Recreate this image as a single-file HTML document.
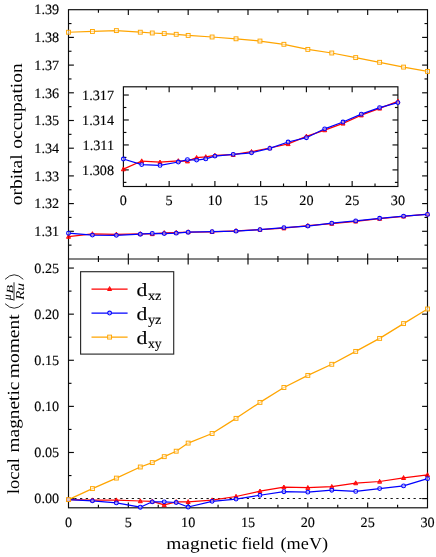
<!DOCTYPE html>
<html><head><meta charset="utf-8"><title>chart</title>
<style>html,body{margin:0;padding:0;background:#fff;}svg{display:block;will-change:transform;text-rendering:geometricPrecision;}text{stroke:#000;stroke-width:0.14px;}</style>
</head><body>
<svg width="436" height="557" viewBox="0 0 436 557" font-family='"Liberation Serif", serif' fill="#000">
<rect x="0" y="0" width="436" height="557" fill="#ffffff"/>
<rect x="68.5" y="9.7" width="359.0" height="498.1" fill="none" stroke="#0a0a0a" stroke-width="1.15"/>
<line x1="68.50" y1="259.00" x2="427.50" y2="259.00" stroke="#0a0a0a" stroke-width="1.15" />
<text x="68.50" y="526.50" font-size="14.2" text-anchor="middle" >0</text>
<line x1="98.42" y1="9.70" x2="98.42" y2="12.70" stroke="#0a0a0a" stroke-width="1.15" />
<line x1="98.42" y1="256.00" x2="98.42" y2="262.00" stroke="#0a0a0a" stroke-width="1.15" />
<line x1="98.42" y1="507.80" x2="98.42" y2="504.80" stroke="#0a0a0a" stroke-width="1.15" />
<line x1="128.33" y1="9.70" x2="128.33" y2="15.10" stroke="#0a0a0a" stroke-width="1.15" />
<line x1="128.33" y1="253.60" x2="128.33" y2="264.40" stroke="#0a0a0a" stroke-width="1.15" />
<line x1="128.33" y1="507.80" x2="128.33" y2="502.40" stroke="#0a0a0a" stroke-width="1.15" />
<text x="128.33" y="526.50" font-size="14.2" text-anchor="middle" >5</text>
<line x1="158.25" y1="9.70" x2="158.25" y2="12.70" stroke="#0a0a0a" stroke-width="1.15" />
<line x1="158.25" y1="256.00" x2="158.25" y2="262.00" stroke="#0a0a0a" stroke-width="1.15" />
<line x1="158.25" y1="507.80" x2="158.25" y2="504.80" stroke="#0a0a0a" stroke-width="1.15" />
<line x1="188.17" y1="9.70" x2="188.17" y2="15.10" stroke="#0a0a0a" stroke-width="1.15" />
<line x1="188.17" y1="253.60" x2="188.17" y2="264.40" stroke="#0a0a0a" stroke-width="1.15" />
<line x1="188.17" y1="507.80" x2="188.17" y2="502.40" stroke="#0a0a0a" stroke-width="1.15" />
<text x="188.17" y="526.50" font-size="14.2" text-anchor="middle" >10</text>
<line x1="218.08" y1="9.70" x2="218.08" y2="12.70" stroke="#0a0a0a" stroke-width="1.15" />
<line x1="218.08" y1="256.00" x2="218.08" y2="262.00" stroke="#0a0a0a" stroke-width="1.15" />
<line x1="218.08" y1="507.80" x2="218.08" y2="504.80" stroke="#0a0a0a" stroke-width="1.15" />
<line x1="248.00" y1="9.70" x2="248.00" y2="15.10" stroke="#0a0a0a" stroke-width="1.15" />
<line x1="248.00" y1="253.60" x2="248.00" y2="264.40" stroke="#0a0a0a" stroke-width="1.15" />
<line x1="248.00" y1="507.80" x2="248.00" y2="502.40" stroke="#0a0a0a" stroke-width="1.15" />
<text x="248.00" y="526.50" font-size="14.2" text-anchor="middle" >15</text>
<line x1="277.92" y1="9.70" x2="277.92" y2="12.70" stroke="#0a0a0a" stroke-width="1.15" />
<line x1="277.92" y1="256.00" x2="277.92" y2="262.00" stroke="#0a0a0a" stroke-width="1.15" />
<line x1="277.92" y1="507.80" x2="277.92" y2="504.80" stroke="#0a0a0a" stroke-width="1.15" />
<line x1="307.83" y1="9.70" x2="307.83" y2="15.10" stroke="#0a0a0a" stroke-width="1.15" />
<line x1="307.83" y1="253.60" x2="307.83" y2="264.40" stroke="#0a0a0a" stroke-width="1.15" />
<line x1="307.83" y1="507.80" x2="307.83" y2="502.40" stroke="#0a0a0a" stroke-width="1.15" />
<text x="307.83" y="526.50" font-size="14.2" text-anchor="middle" >20</text>
<line x1="337.75" y1="9.70" x2="337.75" y2="12.70" stroke="#0a0a0a" stroke-width="1.15" />
<line x1="337.75" y1="256.00" x2="337.75" y2="262.00" stroke="#0a0a0a" stroke-width="1.15" />
<line x1="337.75" y1="507.80" x2="337.75" y2="504.80" stroke="#0a0a0a" stroke-width="1.15" />
<line x1="367.67" y1="9.70" x2="367.67" y2="15.10" stroke="#0a0a0a" stroke-width="1.15" />
<line x1="367.67" y1="253.60" x2="367.67" y2="264.40" stroke="#0a0a0a" stroke-width="1.15" />
<line x1="367.67" y1="507.80" x2="367.67" y2="502.40" stroke="#0a0a0a" stroke-width="1.15" />
<text x="367.67" y="526.50" font-size="14.2" text-anchor="middle" >25</text>
<line x1="397.58" y1="9.70" x2="397.58" y2="12.70" stroke="#0a0a0a" stroke-width="1.15" />
<line x1="397.58" y1="256.00" x2="397.58" y2="262.00" stroke="#0a0a0a" stroke-width="1.15" />
<line x1="397.58" y1="507.80" x2="397.58" y2="504.80" stroke="#0a0a0a" stroke-width="1.15" />
<text x="427.50" y="526.50" font-size="14.2" text-anchor="middle" >30</text>
<line x1="68.50" y1="245.15" x2="71.50" y2="245.15" stroke="#0a0a0a" stroke-width="1.15" />
<line x1="427.50" y1="245.15" x2="424.50" y2="245.15" stroke="#0a0a0a" stroke-width="1.15" />
<line x1="68.50" y1="231.30" x2="73.90" y2="231.30" stroke="#0a0a0a" stroke-width="1.15" />
<line x1="427.50" y1="231.30" x2="422.10" y2="231.30" stroke="#0a0a0a" stroke-width="1.15" />
<line x1="68.50" y1="217.45" x2="71.50" y2="217.45" stroke="#0a0a0a" stroke-width="1.15" />
<line x1="427.50" y1="217.45" x2="424.50" y2="217.45" stroke="#0a0a0a" stroke-width="1.15" />
<line x1="68.50" y1="203.60" x2="73.90" y2="203.60" stroke="#0a0a0a" stroke-width="1.15" />
<line x1="427.50" y1="203.60" x2="422.10" y2="203.60" stroke="#0a0a0a" stroke-width="1.15" />
<line x1="68.50" y1="189.75" x2="71.50" y2="189.75" stroke="#0a0a0a" stroke-width="1.15" />
<line x1="427.50" y1="189.75" x2="424.50" y2="189.75" stroke="#0a0a0a" stroke-width="1.15" />
<line x1="68.50" y1="175.90" x2="73.90" y2="175.90" stroke="#0a0a0a" stroke-width="1.15" />
<line x1="427.50" y1="175.90" x2="422.10" y2="175.90" stroke="#0a0a0a" stroke-width="1.15" />
<line x1="68.50" y1="162.05" x2="71.50" y2="162.05" stroke="#0a0a0a" stroke-width="1.15" />
<line x1="427.50" y1="162.05" x2="424.50" y2="162.05" stroke="#0a0a0a" stroke-width="1.15" />
<line x1="68.50" y1="148.20" x2="73.90" y2="148.20" stroke="#0a0a0a" stroke-width="1.15" />
<line x1="427.50" y1="148.20" x2="422.10" y2="148.20" stroke="#0a0a0a" stroke-width="1.15" />
<line x1="68.50" y1="134.35" x2="71.50" y2="134.35" stroke="#0a0a0a" stroke-width="1.15" />
<line x1="427.50" y1="134.35" x2="424.50" y2="134.35" stroke="#0a0a0a" stroke-width="1.15" />
<line x1="68.50" y1="120.50" x2="73.90" y2="120.50" stroke="#0a0a0a" stroke-width="1.15" />
<line x1="427.50" y1="120.50" x2="422.10" y2="120.50" stroke="#0a0a0a" stroke-width="1.15" />
<line x1="68.50" y1="106.65" x2="71.50" y2="106.65" stroke="#0a0a0a" stroke-width="1.15" />
<line x1="427.50" y1="106.65" x2="424.50" y2="106.65" stroke="#0a0a0a" stroke-width="1.15" />
<line x1="68.50" y1="92.80" x2="73.90" y2="92.80" stroke="#0a0a0a" stroke-width="1.15" />
<line x1="427.50" y1="92.80" x2="422.10" y2="92.80" stroke="#0a0a0a" stroke-width="1.15" />
<line x1="68.50" y1="78.95" x2="71.50" y2="78.95" stroke="#0a0a0a" stroke-width="1.15" />
<line x1="427.50" y1="78.95" x2="424.50" y2="78.95" stroke="#0a0a0a" stroke-width="1.15" />
<line x1="68.50" y1="65.10" x2="73.90" y2="65.10" stroke="#0a0a0a" stroke-width="1.15" />
<line x1="427.50" y1="65.10" x2="422.10" y2="65.10" stroke="#0a0a0a" stroke-width="1.15" />
<line x1="68.50" y1="51.25" x2="71.50" y2="51.25" stroke="#0a0a0a" stroke-width="1.15" />
<line x1="427.50" y1="51.25" x2="424.50" y2="51.25" stroke="#0a0a0a" stroke-width="1.15" />
<line x1="68.50" y1="37.40" x2="73.90" y2="37.40" stroke="#0a0a0a" stroke-width="1.15" />
<line x1="427.50" y1="37.40" x2="422.10" y2="37.40" stroke="#0a0a0a" stroke-width="1.15" />
<line x1="68.50" y1="23.55" x2="71.50" y2="23.55" stroke="#0a0a0a" stroke-width="1.15" />
<line x1="427.50" y1="23.55" x2="424.50" y2="23.55" stroke="#0a0a0a" stroke-width="1.15" />
<text x="59.20" y="236.00" font-size="14.2" text-anchor="end" >1.31</text>
<text x="59.20" y="208.30" font-size="14.2" text-anchor="end" >1.32</text>
<text x="59.20" y="180.60" font-size="14.2" text-anchor="end" >1.33</text>
<text x="59.20" y="152.90" font-size="14.2" text-anchor="end" >1.34</text>
<text x="59.20" y="125.20" font-size="14.2" text-anchor="end" >1.35</text>
<text x="59.20" y="97.50" font-size="14.2" text-anchor="end" >1.36</text>
<text x="59.20" y="69.80" font-size="14.2" text-anchor="end" >1.37</text>
<text x="59.20" y="42.10" font-size="14.2" text-anchor="end" >1.38</text>
<text x="59.20" y="14.40" font-size="14.2" text-anchor="end" >1.39</text>
<line x1="68.50" y1="498.60" x2="73.90" y2="498.60" stroke="#0a0a0a" stroke-width="1.15" />
<line x1="427.50" y1="498.60" x2="422.10" y2="498.60" stroke="#0a0a0a" stroke-width="1.15" />
<text x="59.20" y="503.30" font-size="14.2" text-anchor="end" >0.00</text>
<line x1="68.50" y1="475.55" x2="71.50" y2="475.55" stroke="#0a0a0a" stroke-width="1.15" />
<line x1="427.50" y1="475.55" x2="424.50" y2="475.55" stroke="#0a0a0a" stroke-width="1.15" />
<line x1="68.50" y1="452.49" x2="73.90" y2="452.49" stroke="#0a0a0a" stroke-width="1.15" />
<line x1="427.50" y1="452.49" x2="422.10" y2="452.49" stroke="#0a0a0a" stroke-width="1.15" />
<text x="59.20" y="457.19" font-size="14.2" text-anchor="end" >0.05</text>
<line x1="68.50" y1="429.44" x2="71.50" y2="429.44" stroke="#0a0a0a" stroke-width="1.15" />
<line x1="427.50" y1="429.44" x2="424.50" y2="429.44" stroke="#0a0a0a" stroke-width="1.15" />
<line x1="68.50" y1="406.38" x2="73.90" y2="406.38" stroke="#0a0a0a" stroke-width="1.15" />
<line x1="427.50" y1="406.38" x2="422.10" y2="406.38" stroke="#0a0a0a" stroke-width="1.15" />
<text x="59.20" y="411.08" font-size="14.2" text-anchor="end" >0.10</text>
<line x1="68.50" y1="383.33" x2="71.50" y2="383.33" stroke="#0a0a0a" stroke-width="1.15" />
<line x1="427.50" y1="383.33" x2="424.50" y2="383.33" stroke="#0a0a0a" stroke-width="1.15" />
<line x1="68.50" y1="360.27" x2="73.90" y2="360.27" stroke="#0a0a0a" stroke-width="1.15" />
<line x1="427.50" y1="360.27" x2="422.10" y2="360.27" stroke="#0a0a0a" stroke-width="1.15" />
<text x="59.20" y="364.97" font-size="14.2" text-anchor="end" >0.15</text>
<line x1="68.50" y1="337.22" x2="71.50" y2="337.22" stroke="#0a0a0a" stroke-width="1.15" />
<line x1="427.50" y1="337.22" x2="424.50" y2="337.22" stroke="#0a0a0a" stroke-width="1.15" />
<line x1="68.50" y1="314.16" x2="73.90" y2="314.16" stroke="#0a0a0a" stroke-width="1.15" />
<line x1="427.50" y1="314.16" x2="422.10" y2="314.16" stroke="#0a0a0a" stroke-width="1.15" />
<text x="59.20" y="318.86" font-size="14.2" text-anchor="end" >0.20</text>
<line x1="68.50" y1="291.11" x2="71.50" y2="291.11" stroke="#0a0a0a" stroke-width="1.15" />
<line x1="427.50" y1="291.11" x2="424.50" y2="291.11" stroke="#0a0a0a" stroke-width="1.15" />
<line x1="68.50" y1="268.05" x2="73.90" y2="268.05" stroke="#0a0a0a" stroke-width="1.15" />
<line x1="427.50" y1="268.05" x2="422.10" y2="268.05" stroke="#0a0a0a" stroke-width="1.15" />
<text x="59.20" y="272.75" font-size="14.2" text-anchor="end" >0.25</text>
<polyline points="68.50,32.25 92.43,31.45 116.37,30.60 140.30,32.20 152.27,33.00 164.23,33.60 176.20,34.30 188.17,35.40 212.10,37.00 236.03,38.80 259.97,41.05 283.90,44.30 307.83,49.40 331.77,53.00 355.70,57.60 379.63,62.30 403.57,67.10 427.50,71.40" fill="none" stroke="#ffa500" stroke-width="1.25" stroke-opacity="1.0" stroke-linejoin="round"/>
<rect x="66.55" y="30.30" width="3.90" height="3.90" fill="#fff" fill-opacity="0.55" stroke="#ffa500" stroke-width="0.95"/>
<rect x="90.48" y="29.50" width="3.90" height="3.90" fill="#fff" fill-opacity="0.55" stroke="#ffa500" stroke-width="0.95"/>
<rect x="114.42" y="28.65" width="3.90" height="3.90" fill="#fff" fill-opacity="0.55" stroke="#ffa500" stroke-width="0.95"/>
<rect x="138.35" y="30.25" width="3.90" height="3.90" fill="#fff" fill-opacity="0.55" stroke="#ffa500" stroke-width="0.95"/>
<rect x="150.32" y="31.05" width="3.90" height="3.90" fill="#fff" fill-opacity="0.55" stroke="#ffa500" stroke-width="0.95"/>
<rect x="162.28" y="31.65" width="3.90" height="3.90" fill="#fff" fill-opacity="0.55" stroke="#ffa500" stroke-width="0.95"/>
<rect x="174.25" y="32.35" width="3.90" height="3.90" fill="#fff" fill-opacity="0.55" stroke="#ffa500" stroke-width="0.95"/>
<rect x="186.22" y="33.45" width="3.90" height="3.90" fill="#fff" fill-opacity="0.55" stroke="#ffa500" stroke-width="0.95"/>
<rect x="210.15" y="35.05" width="3.90" height="3.90" fill="#fff" fill-opacity="0.55" stroke="#ffa500" stroke-width="0.95"/>
<rect x="234.08" y="36.85" width="3.90" height="3.90" fill="#fff" fill-opacity="0.55" stroke="#ffa500" stroke-width="0.95"/>
<rect x="258.02" y="39.10" width="3.90" height="3.90" fill="#fff" fill-opacity="0.55" stroke="#ffa500" stroke-width="0.95"/>
<rect x="281.95" y="42.35" width="3.90" height="3.90" fill="#fff" fill-opacity="0.55" stroke="#ffa500" stroke-width="0.95"/>
<rect x="305.88" y="47.45" width="3.90" height="3.90" fill="#fff" fill-opacity="0.55" stroke="#ffa500" stroke-width="0.95"/>
<rect x="329.82" y="51.05" width="3.90" height="3.90" fill="#fff" fill-opacity="0.55" stroke="#ffa500" stroke-width="0.95"/>
<rect x="353.75" y="55.65" width="3.90" height="3.90" fill="#fff" fill-opacity="0.55" stroke="#ffa500" stroke-width="0.95"/>
<rect x="377.68" y="60.35" width="3.90" height="3.90" fill="#fff" fill-opacity="0.55" stroke="#ffa500" stroke-width="0.95"/>
<rect x="401.62" y="65.15" width="3.90" height="3.90" fill="#fff" fill-opacity="0.55" stroke="#ffa500" stroke-width="0.95"/>
<rect x="425.55" y="69.45" width="3.90" height="3.90" fill="#fff" fill-opacity="0.55" stroke="#ffa500" stroke-width="0.95"/>
<polyline points="68.50,236.57 92.43,233.89 116.37,234.28 140.30,233.84 152.27,233.94 164.23,232.78 176.20,232.51 188.17,232.01 212.10,231.78 236.03,230.78 259.97,229.55 283.90,228.18 307.83,225.65 331.77,223.57 355.70,221.36 379.63,218.63 403.57,216.36 427.50,214.02" fill="none" stroke="#ff0000" stroke-width="1.25" stroke-opacity="1.0" stroke-linejoin="round"/>
<path d="M68.50,234.37 L70.50,238.27 L66.50,238.27 Z" fill="#ff0000" fill-opacity="0.7" stroke="#ff0000" stroke-width="0.95" stroke-linejoin="miter"/>
<path d="M92.43,231.69 L94.43,235.59 L90.43,235.59 Z" fill="#ff0000" fill-opacity="0.7" stroke="#ff0000" stroke-width="0.95" stroke-linejoin="miter"/>
<path d="M116.37,232.08 L118.37,235.98 L114.37,235.98 Z" fill="#ff0000" fill-opacity="0.7" stroke="#ff0000" stroke-width="0.95" stroke-linejoin="miter"/>
<path d="M140.30,231.64 L142.30,235.54 L138.30,235.54 Z" fill="#ff0000" fill-opacity="0.7" stroke="#ff0000" stroke-width="0.95" stroke-linejoin="miter"/>
<path d="M152.27,231.74 L154.27,235.64 L150.27,235.64 Z" fill="#ff0000" fill-opacity="0.7" stroke="#ff0000" stroke-width="0.95" stroke-linejoin="miter"/>
<path d="M164.23,230.58 L166.23,234.48 L162.23,234.48 Z" fill="#ff0000" fill-opacity="0.7" stroke="#ff0000" stroke-width="0.95" stroke-linejoin="miter"/>
<path d="M176.20,230.31 L178.20,234.21 L174.20,234.21 Z" fill="#ff0000" fill-opacity="0.7" stroke="#ff0000" stroke-width="0.95" stroke-linejoin="miter"/>
<path d="M188.17,229.81 L190.17,233.71 L186.17,233.71 Z" fill="#ff0000" fill-opacity="0.7" stroke="#ff0000" stroke-width="0.95" stroke-linejoin="miter"/>
<path d="M212.10,229.58 L214.10,233.48 L210.10,233.48 Z" fill="#ff0000" fill-opacity="0.7" stroke="#ff0000" stroke-width="0.95" stroke-linejoin="miter"/>
<path d="M236.03,228.58 L238.03,232.48 L234.03,232.48 Z" fill="#ff0000" fill-opacity="0.7" stroke="#ff0000" stroke-width="0.95" stroke-linejoin="miter"/>
<path d="M259.97,227.35 L261.97,231.25 L257.97,231.25 Z" fill="#ff0000" fill-opacity="0.7" stroke="#ff0000" stroke-width="0.95" stroke-linejoin="miter"/>
<path d="M283.90,225.98 L285.90,229.88 L281.90,229.88 Z" fill="#ff0000" fill-opacity="0.7" stroke="#ff0000" stroke-width="0.95" stroke-linejoin="miter"/>
<path d="M307.83,223.45 L309.83,227.35 L305.83,227.35 Z" fill="#ff0000" fill-opacity="0.7" stroke="#ff0000" stroke-width="0.95" stroke-linejoin="miter"/>
<path d="M331.77,221.37 L333.77,225.27 L329.77,225.27 Z" fill="#ff0000" fill-opacity="0.7" stroke="#ff0000" stroke-width="0.95" stroke-linejoin="miter"/>
<path d="M355.70,219.16 L357.70,223.06 L353.70,223.06 Z" fill="#ff0000" fill-opacity="0.7" stroke="#ff0000" stroke-width="0.95" stroke-linejoin="miter"/>
<path d="M379.63,216.43 L381.63,220.33 L377.63,220.33 Z" fill="#ff0000" fill-opacity="0.7" stroke="#ff0000" stroke-width="0.95" stroke-linejoin="miter"/>
<path d="M403.57,214.16 L405.57,218.06 L401.57,218.06 Z" fill="#ff0000" fill-opacity="0.7" stroke="#ff0000" stroke-width="0.95" stroke-linejoin="miter"/>
<path d="M427.50,211.82 L429.50,215.72 L425.50,215.72 Z" fill="#ff0000" fill-opacity="0.7" stroke="#ff0000" stroke-width="0.95" stroke-linejoin="miter"/>
<polyline points="68.50,233.21 92.43,235.08 116.37,235.34 140.30,234.21 152.27,233.41 164.23,233.57 176.20,233.18 188.17,232.23 212.10,231.65 236.03,231.15 259.97,229.68 283.90,227.55 307.83,226.12 331.77,223.16 355.70,220.89 379.63,218.28 403.57,216.08 427.50,214.43" fill="none" stroke="#0000ff" stroke-width="1.25" stroke-opacity="1.0" stroke-linejoin="round"/>
<circle cx="68.50" cy="233.21" r="1.9" fill="#fff" fill-opacity="0.5" stroke="#0000ff" stroke-width="1.05"/>
<circle cx="92.43" cy="235.08" r="1.9" fill="#fff" fill-opacity="0.5" stroke="#0000ff" stroke-width="1.05"/>
<circle cx="116.37" cy="235.34" r="1.9" fill="#fff" fill-opacity="0.5" stroke="#0000ff" stroke-width="1.05"/>
<circle cx="140.30" cy="234.21" r="1.9" fill="#fff" fill-opacity="0.5" stroke="#0000ff" stroke-width="1.05"/>
<circle cx="152.27" cy="233.41" r="1.9" fill="#fff" fill-opacity="0.5" stroke="#0000ff" stroke-width="1.05"/>
<circle cx="164.23" cy="233.57" r="1.9" fill="#fff" fill-opacity="0.5" stroke="#0000ff" stroke-width="1.05"/>
<circle cx="176.20" cy="233.18" r="1.9" fill="#fff" fill-opacity="0.5" stroke="#0000ff" stroke-width="1.05"/>
<circle cx="188.17" cy="232.23" r="1.9" fill="#fff" fill-opacity="0.5" stroke="#0000ff" stroke-width="1.05"/>
<circle cx="212.10" cy="231.65" r="1.9" fill="#fff" fill-opacity="0.5" stroke="#0000ff" stroke-width="1.05"/>
<circle cx="236.03" cy="231.15" r="1.9" fill="#fff" fill-opacity="0.5" stroke="#0000ff" stroke-width="1.05"/>
<circle cx="259.97" cy="229.68" r="1.9" fill="#fff" fill-opacity="0.5" stroke="#0000ff" stroke-width="1.05"/>
<circle cx="283.90" cy="227.55" r="1.9" fill="#fff" fill-opacity="0.5" stroke="#0000ff" stroke-width="1.05"/>
<circle cx="307.83" cy="226.12" r="1.9" fill="#fff" fill-opacity="0.5" stroke="#0000ff" stroke-width="1.05"/>
<circle cx="331.77" cy="223.16" r="1.9" fill="#fff" fill-opacity="0.5" stroke="#0000ff" stroke-width="1.05"/>
<circle cx="355.70" cy="220.89" r="1.9" fill="#fff" fill-opacity="0.5" stroke="#0000ff" stroke-width="1.05"/>
<circle cx="379.63" cy="218.28" r="1.9" fill="#fff" fill-opacity="0.5" stroke="#0000ff" stroke-width="1.05"/>
<circle cx="403.57" cy="216.08" r="1.9" fill="#fff" fill-opacity="0.5" stroke="#0000ff" stroke-width="1.05"/>
<circle cx="427.50" cy="214.43" r="1.9" fill="#fff" fill-opacity="0.5" stroke="#0000ff" stroke-width="1.05"/>
<line x1="68.50" y1="498.50" x2="427.50" y2="498.50" stroke="#000" stroke-width="0.9" stroke-dasharray="2.3 3.45"/>
<polyline points="68.50,499.60 92.43,500.10 116.37,500.10 140.30,501.00 152.27,501.40 164.23,504.90 176.20,501.80 188.17,501.80 212.10,500.07 236.03,496.50 259.97,491.20 283.90,487.20 307.83,487.70 331.77,486.70 355.70,483.05 379.63,481.50 403.57,477.80 427.50,474.90" fill="none" stroke="#ff0000" stroke-width="1.25" stroke-opacity="1.0" stroke-linejoin="round"/>
<path d="M68.50,497.40 L70.50,501.30 L66.50,501.30 Z" fill="#ff0000" fill-opacity="0.7" stroke="#ff0000" stroke-width="0.95" stroke-linejoin="miter"/>
<path d="M92.43,497.90 L94.43,501.80 L90.43,501.80 Z" fill="#ff0000" fill-opacity="0.7" stroke="#ff0000" stroke-width="0.95" stroke-linejoin="miter"/>
<path d="M116.37,497.90 L118.37,501.80 L114.37,501.80 Z" fill="#ff0000" fill-opacity="0.7" stroke="#ff0000" stroke-width="0.95" stroke-linejoin="miter"/>
<path d="M140.30,498.80 L142.30,502.70 L138.30,502.70 Z" fill="#ff0000" fill-opacity="0.7" stroke="#ff0000" stroke-width="0.95" stroke-linejoin="miter"/>
<path d="M152.27,499.20 L154.27,503.10 L150.27,503.10 Z" fill="#ff0000" fill-opacity="0.7" stroke="#ff0000" stroke-width="0.95" stroke-linejoin="miter"/>
<path d="M164.23,502.70 L166.23,506.60 L162.23,506.60 Z" fill="#ff0000" fill-opacity="0.7" stroke="#ff0000" stroke-width="0.95" stroke-linejoin="miter"/>
<path d="M176.20,499.60 L178.20,503.50 L174.20,503.50 Z" fill="#ff0000" fill-opacity="0.7" stroke="#ff0000" stroke-width="0.95" stroke-linejoin="miter"/>
<path d="M188.17,499.60 L190.17,503.50 L186.17,503.50 Z" fill="#ff0000" fill-opacity="0.7" stroke="#ff0000" stroke-width="0.95" stroke-linejoin="miter"/>
<path d="M212.10,497.87 L214.10,501.77 L210.10,501.77 Z" fill="#ff0000" fill-opacity="0.7" stroke="#ff0000" stroke-width="0.95" stroke-linejoin="miter"/>
<path d="M236.03,494.30 L238.03,498.20 L234.03,498.20 Z" fill="#ff0000" fill-opacity="0.7" stroke="#ff0000" stroke-width="0.95" stroke-linejoin="miter"/>
<path d="M259.97,489.00 L261.97,492.90 L257.97,492.90 Z" fill="#ff0000" fill-opacity="0.7" stroke="#ff0000" stroke-width="0.95" stroke-linejoin="miter"/>
<path d="M283.90,485.00 L285.90,488.90 L281.90,488.90 Z" fill="#ff0000" fill-opacity="0.7" stroke="#ff0000" stroke-width="0.95" stroke-linejoin="miter"/>
<path d="M307.83,485.50 L309.83,489.40 L305.83,489.40 Z" fill="#ff0000" fill-opacity="0.7" stroke="#ff0000" stroke-width="0.95" stroke-linejoin="miter"/>
<path d="M331.77,484.50 L333.77,488.40 L329.77,488.40 Z" fill="#ff0000" fill-opacity="0.7" stroke="#ff0000" stroke-width="0.95" stroke-linejoin="miter"/>
<path d="M355.70,480.85 L357.70,484.75 L353.70,484.75 Z" fill="#ff0000" fill-opacity="0.7" stroke="#ff0000" stroke-width="0.95" stroke-linejoin="miter"/>
<path d="M379.63,479.30 L381.63,483.20 L377.63,483.20 Z" fill="#ff0000" fill-opacity="0.7" stroke="#ff0000" stroke-width="0.95" stroke-linejoin="miter"/>
<path d="M403.57,475.60 L405.57,479.50 L401.57,479.50 Z" fill="#ff0000" fill-opacity="0.7" stroke="#ff0000" stroke-width="0.95" stroke-linejoin="miter"/>
<path d="M427.50,472.70 L429.50,476.60 L425.50,476.60 Z" fill="#ff0000" fill-opacity="0.7" stroke="#ff0000" stroke-width="0.95" stroke-linejoin="miter"/>
<polyline points="68.50,499.60 92.43,500.80 116.37,502.90 140.30,507.20 152.27,501.80 164.23,501.80 176.20,502.50 188.17,507.00 212.10,501.35 236.03,499.10 259.97,495.25 283.90,491.70 307.83,492.15 331.77,490.20 355.70,491.40 379.63,488.60 403.57,485.90 427.50,478.65" fill="none" stroke="#0000ff" stroke-width="1.25" stroke-opacity="1.0" stroke-linejoin="round"/>
<circle cx="68.50" cy="499.60" r="1.9" fill="#fff" fill-opacity="0.5" stroke="#0000ff" stroke-width="1.05"/>
<circle cx="92.43" cy="500.80" r="1.9" fill="#fff" fill-opacity="0.5" stroke="#0000ff" stroke-width="1.05"/>
<circle cx="116.37" cy="502.90" r="1.9" fill="#fff" fill-opacity="0.5" stroke="#0000ff" stroke-width="1.05"/>
<circle cx="140.30" cy="507.20" r="1.9" fill="#fff" fill-opacity="0.5" stroke="#0000ff" stroke-width="1.05"/>
<circle cx="152.27" cy="501.80" r="1.9" fill="#fff" fill-opacity="0.5" stroke="#0000ff" stroke-width="1.05"/>
<circle cx="164.23" cy="501.80" r="1.9" fill="#fff" fill-opacity="0.5" stroke="#0000ff" stroke-width="1.05"/>
<circle cx="176.20" cy="502.50" r="1.9" fill="#fff" fill-opacity="0.5" stroke="#0000ff" stroke-width="1.05"/>
<circle cx="188.17" cy="507.00" r="1.9" fill="#fff" fill-opacity="0.5" stroke="#0000ff" stroke-width="1.05"/>
<circle cx="212.10" cy="501.35" r="1.9" fill="#fff" fill-opacity="0.5" stroke="#0000ff" stroke-width="1.05"/>
<circle cx="236.03" cy="499.10" r="1.9" fill="#fff" fill-opacity="0.5" stroke="#0000ff" stroke-width="1.05"/>
<circle cx="259.97" cy="495.25" r="1.9" fill="#fff" fill-opacity="0.5" stroke="#0000ff" stroke-width="1.05"/>
<circle cx="283.90" cy="491.70" r="1.9" fill="#fff" fill-opacity="0.5" stroke="#0000ff" stroke-width="1.05"/>
<circle cx="307.83" cy="492.15" r="1.9" fill="#fff" fill-opacity="0.5" stroke="#0000ff" stroke-width="1.05"/>
<circle cx="331.77" cy="490.20" r="1.9" fill="#fff" fill-opacity="0.5" stroke="#0000ff" stroke-width="1.05"/>
<circle cx="355.70" cy="491.40" r="1.9" fill="#fff" fill-opacity="0.5" stroke="#0000ff" stroke-width="1.05"/>
<circle cx="379.63" cy="488.60" r="1.9" fill="#fff" fill-opacity="0.5" stroke="#0000ff" stroke-width="1.05"/>
<circle cx="403.57" cy="485.90" r="1.9" fill="#fff" fill-opacity="0.5" stroke="#0000ff" stroke-width="1.05"/>
<circle cx="427.50" cy="478.65" r="1.9" fill="#fff" fill-opacity="0.5" stroke="#0000ff" stroke-width="1.05"/>
<polyline points="68.50,499.60 92.43,488.60 116.37,478.10 140.30,467.00 152.27,462.60 164.23,456.65 176.20,451.20 188.17,443.10 212.10,433.50 236.03,418.35 259.97,402.40 283.90,387.50 307.83,375.40 331.77,364.30 355.70,351.40 379.63,338.40 403.57,323.60 427.50,309.00" fill="none" stroke="#ffa500" stroke-width="1.25" stroke-opacity="1.0" stroke-linejoin="round"/>
<rect x="66.55" y="497.65" width="3.90" height="3.90" fill="#fff" fill-opacity="0.55" stroke="#ffa500" stroke-width="0.95"/>
<rect x="90.48" y="486.65" width="3.90" height="3.90" fill="#fff" fill-opacity="0.55" stroke="#ffa500" stroke-width="0.95"/>
<rect x="114.42" y="476.15" width="3.90" height="3.90" fill="#fff" fill-opacity="0.55" stroke="#ffa500" stroke-width="0.95"/>
<rect x="138.35" y="465.05" width="3.90" height="3.90" fill="#fff" fill-opacity="0.55" stroke="#ffa500" stroke-width="0.95"/>
<rect x="150.32" y="460.65" width="3.90" height="3.90" fill="#fff" fill-opacity="0.55" stroke="#ffa500" stroke-width="0.95"/>
<rect x="162.28" y="454.70" width="3.90" height="3.90" fill="#fff" fill-opacity="0.55" stroke="#ffa500" stroke-width="0.95"/>
<rect x="174.25" y="449.25" width="3.90" height="3.90" fill="#fff" fill-opacity="0.55" stroke="#ffa500" stroke-width="0.95"/>
<rect x="186.22" y="441.15" width="3.90" height="3.90" fill="#fff" fill-opacity="0.55" stroke="#ffa500" stroke-width="0.95"/>
<rect x="210.15" y="431.55" width="3.90" height="3.90" fill="#fff" fill-opacity="0.55" stroke="#ffa500" stroke-width="0.95"/>
<rect x="234.08" y="416.40" width="3.90" height="3.90" fill="#fff" fill-opacity="0.55" stroke="#ffa500" stroke-width="0.95"/>
<rect x="258.02" y="400.45" width="3.90" height="3.90" fill="#fff" fill-opacity="0.55" stroke="#ffa500" stroke-width="0.95"/>
<rect x="281.95" y="385.55" width="3.90" height="3.90" fill="#fff" fill-opacity="0.55" stroke="#ffa500" stroke-width="0.95"/>
<rect x="305.88" y="373.45" width="3.90" height="3.90" fill="#fff" fill-opacity="0.55" stroke="#ffa500" stroke-width="0.95"/>
<rect x="329.82" y="362.35" width="3.90" height="3.90" fill="#fff" fill-opacity="0.55" stroke="#ffa500" stroke-width="0.95"/>
<rect x="353.75" y="349.45" width="3.90" height="3.90" fill="#fff" fill-opacity="0.55" stroke="#ffa500" stroke-width="0.95"/>
<rect x="377.68" y="336.45" width="3.90" height="3.90" fill="#fff" fill-opacity="0.55" stroke="#ffa500" stroke-width="0.95"/>
<rect x="401.62" y="321.65" width="3.90" height="3.90" fill="#fff" fill-opacity="0.55" stroke="#ffa500" stroke-width="0.95"/>
<rect x="425.55" y="307.05" width="3.90" height="3.90" fill="#fff" fill-opacity="0.55" stroke="#ffa500" stroke-width="0.95"/>
<rect x="123.4" y="86.8" width="274.5" height="99.7" fill="#ffffff" stroke="none"/>
<rect x="123.4" y="86.8" width="274.5" height="99.7" fill="none" stroke="#0a0a0a" stroke-width="1.15"/>
<text x="123.40" y="205.20" font-size="14.2" text-anchor="middle" >0</text>
<line x1="146.28" y1="86.80" x2="146.28" y2="89.80" stroke="#0a0a0a" stroke-width="1.15" />
<line x1="146.28" y1="186.50" x2="146.28" y2="183.50" stroke="#0a0a0a" stroke-width="1.15" />
<line x1="169.15" y1="86.80" x2="169.15" y2="92.20" stroke="#0a0a0a" stroke-width="1.15" />
<line x1="169.15" y1="186.50" x2="169.15" y2="181.10" stroke="#0a0a0a" stroke-width="1.15" />
<text x="169.15" y="205.20" font-size="14.2" text-anchor="middle" >5</text>
<line x1="192.03" y1="86.80" x2="192.03" y2="89.80" stroke="#0a0a0a" stroke-width="1.15" />
<line x1="192.03" y1="186.50" x2="192.03" y2="183.50" stroke="#0a0a0a" stroke-width="1.15" />
<line x1="214.90" y1="86.80" x2="214.90" y2="92.20" stroke="#0a0a0a" stroke-width="1.15" />
<line x1="214.90" y1="186.50" x2="214.90" y2="181.10" stroke="#0a0a0a" stroke-width="1.15" />
<text x="214.90" y="205.20" font-size="14.2" text-anchor="middle" >10</text>
<line x1="237.78" y1="86.80" x2="237.78" y2="89.80" stroke="#0a0a0a" stroke-width="1.15" />
<line x1="237.78" y1="186.50" x2="237.78" y2="183.50" stroke="#0a0a0a" stroke-width="1.15" />
<line x1="260.65" y1="86.80" x2="260.65" y2="92.20" stroke="#0a0a0a" stroke-width="1.15" />
<line x1="260.65" y1="186.50" x2="260.65" y2="181.10" stroke="#0a0a0a" stroke-width="1.15" />
<text x="260.65" y="205.20" font-size="14.2" text-anchor="middle" >15</text>
<line x1="283.52" y1="86.80" x2="283.52" y2="89.80" stroke="#0a0a0a" stroke-width="1.15" />
<line x1="283.52" y1="186.50" x2="283.52" y2="183.50" stroke="#0a0a0a" stroke-width="1.15" />
<line x1="306.40" y1="86.80" x2="306.40" y2="92.20" stroke="#0a0a0a" stroke-width="1.15" />
<line x1="306.40" y1="186.50" x2="306.40" y2="181.10" stroke="#0a0a0a" stroke-width="1.15" />
<text x="306.40" y="205.20" font-size="14.2" text-anchor="middle" >20</text>
<line x1="329.27" y1="86.80" x2="329.27" y2="89.80" stroke="#0a0a0a" stroke-width="1.15" />
<line x1="329.27" y1="186.50" x2="329.27" y2="183.50" stroke="#0a0a0a" stroke-width="1.15" />
<line x1="352.15" y1="86.80" x2="352.15" y2="92.20" stroke="#0a0a0a" stroke-width="1.15" />
<line x1="352.15" y1="186.50" x2="352.15" y2="181.10" stroke="#0a0a0a" stroke-width="1.15" />
<text x="352.15" y="205.20" font-size="14.2" text-anchor="middle" >25</text>
<line x1="375.02" y1="86.80" x2="375.02" y2="89.80" stroke="#0a0a0a" stroke-width="1.15" />
<line x1="375.02" y1="186.50" x2="375.02" y2="183.50" stroke="#0a0a0a" stroke-width="1.15" />
<text x="397.90" y="205.20" font-size="14.2" text-anchor="middle" >30</text>
<line x1="123.40" y1="182.38" x2="126.40" y2="182.38" stroke="#0a0a0a" stroke-width="1.15" />
<line x1="397.90" y1="182.38" x2="394.90" y2="182.38" stroke="#0a0a0a" stroke-width="1.15" />
<line x1="123.40" y1="169.90" x2="128.80" y2="169.90" stroke="#0a0a0a" stroke-width="1.15" />
<line x1="397.90" y1="169.90" x2="392.50" y2="169.90" stroke="#0a0a0a" stroke-width="1.15" />
<text x="114.00" y="174.60" font-size="14.2" text-anchor="end" >1.308</text>
<line x1="123.40" y1="157.42" x2="126.40" y2="157.42" stroke="#0a0a0a" stroke-width="1.15" />
<line x1="397.90" y1="157.42" x2="394.90" y2="157.42" stroke="#0a0a0a" stroke-width="1.15" />
<line x1="123.40" y1="144.94" x2="128.80" y2="144.94" stroke="#0a0a0a" stroke-width="1.15" />
<line x1="397.90" y1="144.94" x2="392.50" y2="144.94" stroke="#0a0a0a" stroke-width="1.15" />
<text x="114.00" y="149.64" font-size="14.2" text-anchor="end" >1.311</text>
<line x1="123.40" y1="132.46" x2="126.40" y2="132.46" stroke="#0a0a0a" stroke-width="1.15" />
<line x1="397.90" y1="132.46" x2="394.90" y2="132.46" stroke="#0a0a0a" stroke-width="1.15" />
<line x1="123.40" y1="119.98" x2="128.80" y2="119.98" stroke="#0a0a0a" stroke-width="1.15" />
<line x1="397.90" y1="119.98" x2="392.50" y2="119.98" stroke="#0a0a0a" stroke-width="1.15" />
<text x="114.00" y="124.68" font-size="14.2" text-anchor="end" >1.314</text>
<line x1="123.40" y1="107.50" x2="126.40" y2="107.50" stroke="#0a0a0a" stroke-width="1.15" />
<line x1="397.90" y1="107.50" x2="394.90" y2="107.50" stroke="#0a0a0a" stroke-width="1.15" />
<line x1="123.40" y1="95.02" x2="128.80" y2="95.02" stroke="#0a0a0a" stroke-width="1.15" />
<line x1="397.90" y1="95.02" x2="392.50" y2="95.02" stroke="#0a0a0a" stroke-width="1.15" />
<text x="114.00" y="99.72" font-size="14.2" text-anchor="end" >1.317</text>
<polyline points="123.40,169.10 141.70,161.05 160.00,162.20 178.30,160.90 187.45,161.20 196.60,157.70 205.75,156.90 214.90,155.40 233.20,154.70 251.50,151.70 269.80,148.00 288.10,143.90 306.40,136.30 324.70,130.05 343.00,123.40 361.30,115.20 379.60,108.40 397.90,101.35" fill="none" stroke="#ff0000" stroke-width="1.25" stroke-opacity="1.0" stroke-linejoin="round"/>
<path d="M123.40,166.90 L125.40,170.80 L121.40,170.80 Z" fill="#ff0000" fill-opacity="0.7" stroke="#ff0000" stroke-width="0.95" stroke-linejoin="miter"/>
<path d="M141.70,158.85 L143.70,162.75 L139.70,162.75 Z" fill="#ff0000" fill-opacity="0.7" stroke="#ff0000" stroke-width="0.95" stroke-linejoin="miter"/>
<path d="M160.00,160.00 L162.00,163.90 L158.00,163.90 Z" fill="#ff0000" fill-opacity="0.7" stroke="#ff0000" stroke-width="0.95" stroke-linejoin="miter"/>
<path d="M178.30,158.70 L180.30,162.60 L176.30,162.60 Z" fill="#ff0000" fill-opacity="0.7" stroke="#ff0000" stroke-width="0.95" stroke-linejoin="miter"/>
<path d="M187.45,159.00 L189.45,162.90 L185.45,162.90 Z" fill="#ff0000" fill-opacity="0.7" stroke="#ff0000" stroke-width="0.95" stroke-linejoin="miter"/>
<path d="M196.60,155.50 L198.60,159.40 L194.60,159.40 Z" fill="#ff0000" fill-opacity="0.7" stroke="#ff0000" stroke-width="0.95" stroke-linejoin="miter"/>
<path d="M205.75,154.70 L207.75,158.60 L203.75,158.60 Z" fill="#ff0000" fill-opacity="0.7" stroke="#ff0000" stroke-width="0.95" stroke-linejoin="miter"/>
<path d="M214.90,153.20 L216.90,157.10 L212.90,157.10 Z" fill="#ff0000" fill-opacity="0.7" stroke="#ff0000" stroke-width="0.95" stroke-linejoin="miter"/>
<path d="M233.20,152.50 L235.20,156.40 L231.20,156.40 Z" fill="#ff0000" fill-opacity="0.7" stroke="#ff0000" stroke-width="0.95" stroke-linejoin="miter"/>
<path d="M251.50,149.50 L253.50,153.40 L249.50,153.40 Z" fill="#ff0000" fill-opacity="0.7" stroke="#ff0000" stroke-width="0.95" stroke-linejoin="miter"/>
<path d="M269.80,145.80 L271.80,149.70 L267.80,149.70 Z" fill="#ff0000" fill-opacity="0.7" stroke="#ff0000" stroke-width="0.95" stroke-linejoin="miter"/>
<path d="M288.10,141.70 L290.10,145.60 L286.10,145.60 Z" fill="#ff0000" fill-opacity="0.7" stroke="#ff0000" stroke-width="0.95" stroke-linejoin="miter"/>
<path d="M306.40,134.10 L308.40,138.00 L304.40,138.00 Z" fill="#ff0000" fill-opacity="0.7" stroke="#ff0000" stroke-width="0.95" stroke-linejoin="miter"/>
<path d="M324.70,127.85 L326.70,131.75 L322.70,131.75 Z" fill="#ff0000" fill-opacity="0.7" stroke="#ff0000" stroke-width="0.95" stroke-linejoin="miter"/>
<path d="M343.00,121.20 L345.00,125.10 L341.00,125.10 Z" fill="#ff0000" fill-opacity="0.7" stroke="#ff0000" stroke-width="0.95" stroke-linejoin="miter"/>
<path d="M361.30,113.00 L363.30,116.90 L359.30,116.90 Z" fill="#ff0000" fill-opacity="0.7" stroke="#ff0000" stroke-width="0.95" stroke-linejoin="miter"/>
<path d="M379.60,106.20 L381.60,110.10 L377.60,110.10 Z" fill="#ff0000" fill-opacity="0.7" stroke="#ff0000" stroke-width="0.95" stroke-linejoin="miter"/>
<path d="M397.90,99.15 L399.90,103.05 L395.90,103.05 Z" fill="#ff0000" fill-opacity="0.7" stroke="#ff0000" stroke-width="0.95" stroke-linejoin="miter"/>
<polyline points="123.40,159.00 141.70,164.60 160.00,165.40 178.30,162.00 187.45,159.60 196.60,160.07 205.75,158.90 214.90,156.05 233.20,154.30 251.50,152.80 269.80,148.40 288.10,142.00 306.40,137.70 324.70,128.80 343.00,122.00 361.30,114.15 379.60,107.55 397.90,102.60" fill="none" stroke="#0000ff" stroke-width="1.25" stroke-opacity="1.0" stroke-linejoin="round"/>
<circle cx="123.40" cy="159.00" r="1.9" fill="#fff" fill-opacity="0.5" stroke="#0000ff" stroke-width="1.05"/>
<circle cx="141.70" cy="164.60" r="1.9" fill="#fff" fill-opacity="0.5" stroke="#0000ff" stroke-width="1.05"/>
<circle cx="160.00" cy="165.40" r="1.9" fill="#fff" fill-opacity="0.5" stroke="#0000ff" stroke-width="1.05"/>
<circle cx="178.30" cy="162.00" r="1.9" fill="#fff" fill-opacity="0.5" stroke="#0000ff" stroke-width="1.05"/>
<circle cx="187.45" cy="159.60" r="1.9" fill="#fff" fill-opacity="0.5" stroke="#0000ff" stroke-width="1.05"/>
<circle cx="196.60" cy="160.07" r="1.9" fill="#fff" fill-opacity="0.5" stroke="#0000ff" stroke-width="1.05"/>
<circle cx="205.75" cy="158.90" r="1.9" fill="#fff" fill-opacity="0.5" stroke="#0000ff" stroke-width="1.05"/>
<circle cx="214.90" cy="156.05" r="1.9" fill="#fff" fill-opacity="0.5" stroke="#0000ff" stroke-width="1.05"/>
<circle cx="233.20" cy="154.30" r="1.9" fill="#fff" fill-opacity="0.5" stroke="#0000ff" stroke-width="1.05"/>
<circle cx="251.50" cy="152.80" r="1.9" fill="#fff" fill-opacity="0.5" stroke="#0000ff" stroke-width="1.05"/>
<circle cx="269.80" cy="148.40" r="1.9" fill="#fff" fill-opacity="0.5" stroke="#0000ff" stroke-width="1.05"/>
<circle cx="288.10" cy="142.00" r="1.9" fill="#fff" fill-opacity="0.5" stroke="#0000ff" stroke-width="1.05"/>
<circle cx="306.40" cy="137.70" r="1.9" fill="#fff" fill-opacity="0.5" stroke="#0000ff" stroke-width="1.05"/>
<circle cx="324.70" cy="128.80" r="1.9" fill="#fff" fill-opacity="0.5" stroke="#0000ff" stroke-width="1.05"/>
<circle cx="343.00" cy="122.00" r="1.9" fill="#fff" fill-opacity="0.5" stroke="#0000ff" stroke-width="1.05"/>
<circle cx="361.30" cy="114.15" r="1.9" fill="#fff" fill-opacity="0.5" stroke="#0000ff" stroke-width="1.05"/>
<circle cx="379.60" cy="107.55" r="1.9" fill="#fff" fill-opacity="0.5" stroke="#0000ff" stroke-width="1.05"/>
<circle cx="397.90" cy="102.60" r="1.9" fill="#fff" fill-opacity="0.5" stroke="#0000ff" stroke-width="1.05"/>
<rect x="80.6" y="271.7" width="93.10" height="82.40" fill="#ffffff" stroke="#2a2a2a" stroke-width="1.15"/>
<line x1="91.50" y1="289.10" x2="127.60" y2="289.10" stroke="#ff0000" stroke-width="1.25" />
<line x1="91.50" y1="313.00" x2="127.60" y2="313.00" stroke="#0000ff" stroke-width="1.25" />
<line x1="91.50" y1="337.10" x2="127.60" y2="337.10" stroke="#ffa500" stroke-width="1.25" />
<path d="M109.60,286.60 L111.60,290.50 L107.60,290.50 Z" fill="#ff0000" fill-opacity="0.7" stroke="#ff0000" stroke-width="0.95" stroke-linejoin="miter"/>
<circle cx="109.60" cy="313.00" r="1.9" fill="#fff" fill-opacity="0.5" stroke="#0000ff" stroke-width="1.05"/>
<rect x="107.65" y="335.15" width="3.90" height="3.90" fill="#fff" fill-opacity="0.55" stroke="#ffa500" stroke-width="0.95"/>
<text x="136.6" y="296.2" font-size="18.6" textLength="10.8" lengthAdjust="spacingAndGlyphs" style="stroke-width:0.1px">d</text>
<text x="147.9" y="300.20" font-size="13.4" textLength="13.6" lengthAdjust="spacingAndGlyphs" style="stroke-width:0.1px">xz</text>
<text x="136.6" y="320.2" font-size="18.6" textLength="10.8" lengthAdjust="spacingAndGlyphs" style="stroke-width:0.1px">d</text>
<text x="147.9" y="324.20" font-size="13.4" textLength="13.6" lengthAdjust="spacingAndGlyphs" style="stroke-width:0.1px">yz</text>
<text x="136.6" y="344.3" font-size="18.6" textLength="10.8" lengthAdjust="spacingAndGlyphs" style="stroke-width:0.1px">d</text>
<text x="147.9" y="348.30" font-size="13.4" textLength="13.6" lengthAdjust="spacingAndGlyphs" style="stroke-width:0.1px">xy</text>
<g transform="translate(21.55,205.0) rotate(-90)">
<text x="-0.35" y="0" font-size="17.0" textLength="51.00" lengthAdjust="spacingAndGlyphs" style="stroke-width:0" >orbital</text>
<text x="56.25" y="0" font-size="17.0" textLength="85.45" lengthAdjust="spacingAndGlyphs" style="stroke-width:0" >occupation</text>
</g>
<g transform="translate(0,549.1)">
<text x="166.25" y="0" font-size="17.0" textLength="71.20" lengthAdjust="spacingAndGlyphs" style="stroke-width:0" >magnetic</text>
<text x="241.65" y="0" font-size="17.0" textLength="32.20" lengthAdjust="spacingAndGlyphs" style="stroke-width:0" >field</text>
<text x="280.55" y="0" font-size="17.0" textLength="47.60" lengthAdjust="spacingAndGlyphs" style="stroke-width:0" >(meV)</text>
</g>
<g transform="translate(18.6,493.7) rotate(-90)">
<text x="-0.35" y="0" font-size="17.0" textLength="35.90" lengthAdjust="spacingAndGlyphs" style="stroke-width:0" >local</text>
<text x="41.25" y="0" font-size="17.0" textLength="70.80" lengthAdjust="spacingAndGlyphs" style="stroke-width:0" >magnetic</text>
<text x="115.45" y="0" font-size="17.0" textLength="63.90" lengthAdjust="spacingAndGlyphs" style="stroke-width:0" >moment</text>
<path d="M190.0,-13.5 Q181.0,-4.4 190.0,4.7" fill="none" stroke="#111" stroke-width="0.9"/>
<path d="M214.4,-13.5 Q223.4,-4.4 214.4,4.7" fill="none" stroke="#111" stroke-width="0.9"/>
<line x1="193.1" y1="-4.6" x2="211.4" y2="-4.6" stroke="#111" stroke-width="0.9"/>
<text x="193.4" y="-7.7" font-size="11.8" font-style="italic" style="stroke-width:0">μ</text>
<text x="200.1" y="-5.8" font-size="9.4" font-style="italic" textLength="8.6" lengthAdjust="spacingAndGlyphs" style="stroke-width:0">B</text>
<text x="193.6" y="5.6" font-size="12" font-style="italic" textLength="17.2" lengthAdjust="spacingAndGlyphs" style="stroke-width:0">Ru</text>
</g>
</svg>
</body></html>
